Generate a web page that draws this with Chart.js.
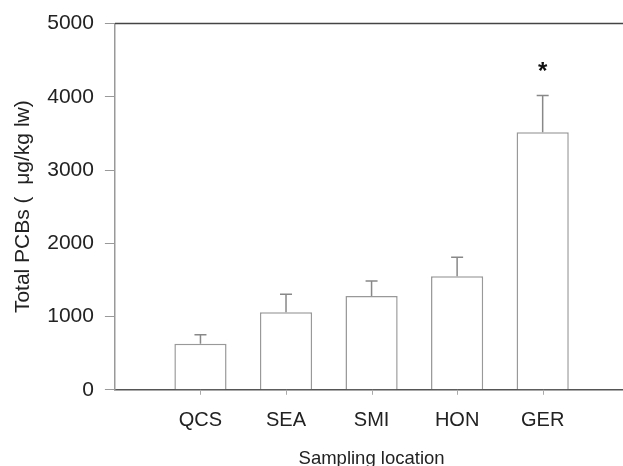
<!DOCTYPE html>
<html>
<head>
<meta charset="utf-8">
<script src="https://cdn.jsdelivr.net/npm/chart.js"></script>
<style>
  html, body { margin: 0; padding: 0; background: #fff; overflow: hidden; }
  #wrap { width: 631px; height: 470px; }
</style>
</head>
<body>
<div id="wrap"><canvas id="pcbChart" width="631" height="470"></canvas></div>
<script>
// Blank slots at both ends keep the empty space left and right of the bars
const locations = [' ', 'QCS', 'SEA', 'SMI', 'HON', 'GER', ' '];
const totalPCBs = [null, 630, 1060, 1280, 1550, 3515, null];
const pcbSD = [null, 120, 245, 205, 260, 505, null];
const significant = [false, false, false, false, false, true, false];
const yTicks = [0, 1000, 2000, 3000, 4000, 5000];

const font = "'Liberation Sans', Arial, sans-serif";

// Error bars, the asterisk, x tick marks and the top frame line
const errorBars = {
  id: 'errorBars',
  afterDatasetsDraw(chart) {
    const { ctx, chartArea, scales: { x, y } } = chart;
    ctx.save();
    ctx.strokeStyle = '#444';
    ctx.lineWidth = 1.5;
    ctx.beginPath();
    ctx.moveTo(chartArea.left, chartArea.top);
    ctx.lineTo(chartArea.right, chartArea.top);
    ctx.stroke();

    // short tick marks under the used categories
    ctx.strokeStyle = '#aaa';
    ctx.lineWidth = 1;
    locations.forEach((loc, i) => {
      if (!loc.trim()) return;
      const px = Math.round(x.getPixelForTick(i)) + 0.5;
      ctx.beginPath();
      ctx.moveTo(px, chartArea.bottom);
      ctx.lineTo(px, chartArea.bottom + 5);
      ctx.stroke();
    });

    const meta = chart.getDatasetMeta(0);
    meta.data.forEach((bar, i) => {
      if (totalPCBs[i] == null) return;
      const top = y.getPixelForValue(totalPCBs[i] + pcbSD[i]);
      ctx.strokeStyle = '#888';
      ctx.lineWidth = 1.5;
      ctx.beginPath();
      ctx.moveTo(bar.x, bar.y);
      ctx.lineTo(bar.x, top);
      ctx.moveTo(bar.x - 6, top);
      ctx.lineTo(bar.x + 6, top);
      ctx.stroke();
      if (significant[i]) {
        ctx.fillStyle = '#111';
        ctx.font = 'bold 24px ' + font;
        ctx.textAlign = 'center';
        ctx.textBaseline = 'middle';
        ctx.fillText('*', bar.x, top - 23);
      }
    });
    ctx.restore();
  }
};

new Chart(document.getElementById('pcbChart'), {
  type: 'bar',
  data: {
    labels: locations,
    datasets: [{
      label: 'Total PCBs',
      data: totalPCBs,
      backgroundColor: '#fff',
      borderColor: '#999',
      borderWidth: 1.5,
      barPercentage: 0.61,
      categoryPercentage: 1
    }]
  },
  options: {
    responsive: false,
    animation: false,
    layout: { padding: { top: 0, left: 11, right: 0, bottom: 0 } },
    plugins: {
      legend: { display: false },
      tooltip: { enabled: false }
    },
    scales: {
      x: {
        offset: false,
        grid: {
          offset: false,
          drawOnChartArea: false,
          drawTicks: true,
          tickLength: 19,
          color: 'rgba(0,0,0,0)'
        },
        border: { color: '#555', width: 1.5 },
        ticks: {
          color: '#222',
          font: { family: font, size: 20 },
          padding: 0,
          maxRotation: 0,
          autoSkip: false
        },
        title: {
          display: true,
          text: 'Sampling location',
          color: '#222',
          font: { family: font, size: 18.5 },
          padding: { top: 15, bottom: 0 }
        }
      },
      y: {
        min: 0,
        max: 5000,
        afterBuildTicks: axis => { axis.ticks = yTicks.map(v => ({ value: v })); },
        grid: {
          drawOnChartArea: false,
          drawTicks: true,
          tickLength: 10,
          color: '#999'
        },
        border: { color: '#999', width: 1.5 },
        ticks: {
          color: '#222',
          font: { family: font, size: 21 },
          padding: 11,
          callback: v => String(v)
        },
        title: {
          display: true,
          text: 'Total PCBs (  \u03bcg/kg lw)',
          color: '#222',
          font: { family: font, size: 21 },
          padding: { top: 0, bottom: 0 }
        }
      }
    }
  },
  plugins: [errorBars]
});
</script>
</body>
</html>
